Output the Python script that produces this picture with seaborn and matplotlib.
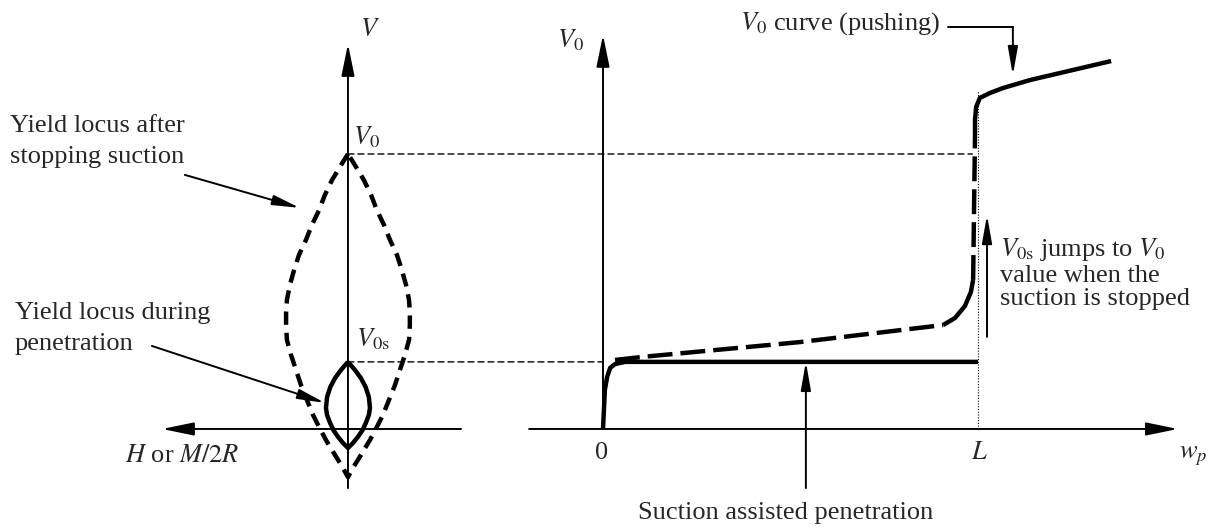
import matplotlib
matplotlib.use("Agg")
import matplotlib.pyplot as plt
from matplotlib.patches import ConnectionPatch
import numpy as np
import pandas as pd
import seaborn as sns

sns.set_theme(style="white")
plt.rcParams["font.family"] = ["Liberation Serif", "DejaVu Serif"]
plt.rcParams["mathtext.fontset"] = "stix"

# ---- Left panel: yield loci in the (H, V) plane, normalised by V0 ----
# half-width of each locus (H/V0) at vertical load levels V/V0
locus_after_v = [1.000, 0.960, 0.905, 0.851, 0.796, 0.742, 0.687, 0.633, 0.578, 0.524,
                 0.469, 0.422, 0.378, 0.324, 0.269, 0.215, 0.160, 0.105, 0.051, 0.007,
                 -0.040, -0.095, -0.135, -0.175]
locus_after_h = [0.000, 0.025, 0.058, 0.084, 0.105, 0.131, 0.153, 0.178, 0.196, 0.211,
                 0.222, 0.225, 0.225, 0.222, 0.207, 0.189, 0.171, 0.149, 0.127, 0.105,
                 0.080, 0.047, 0.022, 0.000]
locus_during_v = [0.244, 0.215, 0.185, 0.153, 0.116, 0.076, 0.051, 0.022, -0.004, -0.029,
                  -0.051, -0.069]
locus_during_h = [0.000, 0.025, 0.047, 0.064, 0.076, 0.080, 0.076, 0.065, 0.053, 0.036,
                  0.018, 0.000]

V0_LEVEL = 1.0
V0S_LEVEL = 0.244

# ---- Right panel: bearing capacity against penetration w_p / L ----
suction_wp = [0.0, 0.005, 0.011, 0.019, 0.032, 0.059, 1.0]
suction_v = [0.0, 0.142, 0.189, 0.222, 0.236, 0.244, 0.244]

push_low_wp = [0.032, 0.104, 0.525, 0.907]
push_low_v = [0.251, 0.262, 0.316, 0.378]
push_bend_wp = [0.907, 0.939, 0.965, 0.981, 0.987]
push_bend_v = [0.378, 0.404, 0.447, 0.498, 0.542]
push_jump_wp = [0.987, 0.992]
push_jump_v = [0.542, 1.069]
push_high_wp = [0.992, 0.992, 0.995, 1.005, 1.032, 1.067, 1.139, 1.355]
push_high_v = [1.069, 1.124, 1.171, 1.204, 1.222, 1.240, 1.269, 1.338]

FS = 19
INK = "black"
THICK = 3.2

fig = plt.figure(figsize=(12.15, 5.31), dpi=100)
ax_l = fig.add_axes([0, 0, 480 / 1215, 1])
ax_r = fig.add_axes([480 / 1215, 0, 735 / 1215, 1])
ax_l.set_xlim(1.265, -0.48)   # H grows to the left
ax_r.set_xlim(-0.328, 1.632)
for ax in (ax_l, ax_r):
    ax.set_ylim(-0.371, 1.56)
    ax.set_axis_off()


def arrow(ax, tail, tip, hl=1.95, hw=0.4, lw=1.4):
    ax.annotate("", xy=tip, xytext=tail,
                arrowprops=dict(arrowstyle=f"-|>,head_length={hl},head_width={hw}",
                                lw=lw, color=INK, shrinkA=0, shrinkB=0,
                                mutation_scale=10))


def curve(ax, x, y, lw=THICK, dashes=None):
    df = pd.DataFrame({"x": x, "y": y})
    sns.lineplot(data=df, x="x", y="y", sort=False, estimator=None,
                 color=INK, lw=lw, ax=ax, legend=False)
    line = ax.lines[-1]
    line.set_solid_capstyle("butt")
    line.set_solid_joinstyle("round")
    if dashes is not None:
        line.set_dashes(dashes)
    return line


# ---- left panel axes ----
arrow(ax_l, (0.0, -0.215), (0.0, 1.40))
arrow(ax_l, (-0.411, 0.0), (0.676, 0.0))
ax_l.text(-0.08, 1.45, r"$V$", fontsize=FS, ha="center", va="center")
ax_l.text(-0.069, 1.06, r"$V_\mathrm{0}$", fontsize=FS, ha="center", va="center")
ax_l.text(-0.091, 0.326, r"$V_\mathrm{0s}$", fontsize=FS, ha="center", va="center")
ax_l.text(0.604, -0.098, r"$H$ or $M/2R$", fontsize=FS, ha="center", va="center")

# yield loci (each half-width mirrored about the V axis)
ha = np.array(locus_after_h)
va = np.array(locus_after_v)
curve(ax_l, np.concatenate([ha, -ha[::-1]]), np.concatenate([va, va[::-1]]),
      dashes=[3.0, 1.8])
hd = np.array(locus_during_h)
vd = np.array(locus_during_v)
curve(ax_l, np.concatenate([hd, -hd[::-1]]), np.concatenate([vd, vd[::-1]]))

ax_l.text(1.229, 1.045, "Yield locus after\nstopping suction", fontsize=FS,
          ha="left", va="center", linespacing=1.5)
arrow(ax_l, (0.593, 0.924), (0.175, 0.804), hl=1.65, hw=0.3)
ax_l.text(1.211, 0.365, "Yield locus during\npenetration", fontsize=FS,
          ha="left", va="center", linespacing=1.5)
arrow(ax_l, (0.713, 0.302), (0.084, 0.095), hl=1.65, hw=0.3)

# ---- right panel axes ----
arrow(ax_r, (0.0, 0.0), (0.0, 1.433))
arrow(ax_r, (-0.197, 0.0), (1.533, 0.0))
ax_r.text(-0.088, 1.415, r"$V_\mathrm{0}$", fontsize=FS, ha="center", va="center")
ax_r.text(-0.005, -0.087, "0", fontsize=FS, ha="center", va="center")
ax_r.text(1.005, -0.087, r"$L$", fontsize=FS, ha="center", va="center")
ax_r.text(1.573, -0.1, r"$w_p$", fontsize=FS, ha="center", va="center")

# dotted marker at w_p = L
ax_r.plot([1.0, 1.0], [0.0, 1.233], color=INK, lw=0.8, ls=(0, (1, 1.5)))

# load-level guides linking the two panels
for v_lvl, wp_end in ((V0_LEVEL, 0.985), (V0S_LEVEL, 0.0)):
    con = ConnectionPatch(xyA=(0.0, v_lvl), coordsA=ax_l.transData,
                          xyB=(wp_end, v_lvl), coordsB=ax_r.transData,
                          color=INK, lw=1.0, linestyle=(0, (4.3, 2.9)))
    fig.add_artist(con)

# V0s during suction and the pushing V0 curve
curve(ax_r, suction_wp, suction_v)
curve(ax_r, push_low_wp, push_low_v, dashes=[5.6, 1.8])
curve(ax_r, push_bend_wp, push_bend_v)
curve(ax_r, push_jump_wp, push_jump_v, dashes=[5.6, 1.8])
curve(ax_r, push_high_wp, push_high_v)

# annotations
ax_r.text(0.899, 1.475, r"$V_\mathrm{0}$ curve (pushing)", fontsize=FS,
          ha="right", va="center")
ax_r.plot([0.92, 1.093], [1.462, 1.462], color=INK, lw=1.4)
arrow(ax_r, (1.093, 1.462), (1.093, 1.287), hl=1.7, hw=0.3)

arrow(ax_r, (1.024, 0.335), (1.024, 0.778), hl=1.7, hw=0.3)
ax_r.text(1.059, 0.567, r"$V_\mathrm{0s}$ jumps to $V_\mathrm{0}$" + "\nvalue when the\nsuction is stopped",
          fontsize=FS, ha="left", va="center", linespacing=1.1)

arrow(ax_r, (0.541, -0.215), (0.541, 0.244), hl=1.7, hw=0.3)
ax_r.text(0.488, -0.305, "Suction assisted penetration", fontsize=FS,
          ha="center", va="center")

fig.savefig("out.png", dpi=100)
